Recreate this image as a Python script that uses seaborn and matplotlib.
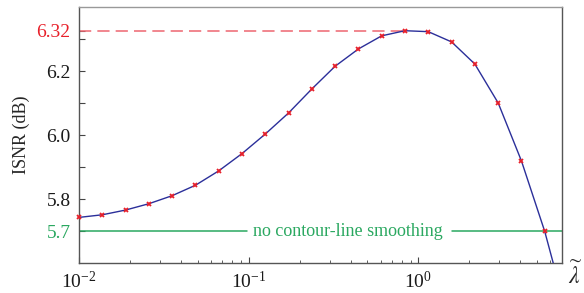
import numpy as np
import pandas as pd
import matplotlib
matplotlib.use("Agg")
import matplotlib.pyplot as plt
import seaborn as sns
from matplotlib.ticker import LogLocator, NullFormatter, FixedLocator

# ==================== Data ==================== #
lam = [0.0100, 0.01372, 0.01882, 0.02582, 0.03540, 0.04858, 0.06663, 0.0914,
       0.1253, 0.1719, 0.2358, 0.3235, 0.4436, 0.6085, 0.8348, 1.145,
       1.571, 2.153, 2.958, 4.055, 5.56, 7.63]
isnr = [5.7425, 5.7507, 5.7655, 5.7853, 5.8104, 5.843, 5.888, 5.942,
        6.003, 6.069, 6.144, 6.215, 6.269, 6.310, 6.326, 6.323,
        6.291, 6.222, 6.100, 5.919, 5.699, 5.428]
best_value = 6.326
best_label = "6.32"
baseline = 5.7
baseline_text = "no contour-line smoothing"

df = pd.DataFrame({"lam": lam, "isnr": isnr})

# ==================== Style ==================== #
sns.set_theme(style="ticks")
plt.rcParams["font.family"] = ["Liberation Serif", "DejaVu Serif"]
plt.rcParams["mathtext.fontset"] = "stix"

fig = plt.figure(figsize=(5.84, 2.93), dpi=100)
ax = fig.add_axes([0.1353, 0.1024, 0.827, 0.8736])

navy = "#2b2f9a"
red = "#e8202a"
dash_red = "#ee6670"
green = "#2aa860"

sns.lineplot(data=df, x="lam", y="isnr", ax=ax, color=navy, linewidth=1.0,
             sort=False, zorder=3)
ax.plot(lam[:-1], isnr[:-1], linestyle="none", marker="x", ms=3.5, mew=1.3,
        color=red, zorder=4, clip_on=False)

ax.set_xscale("log")
ax.set_xlim(0.01, 7.03)
ax.set_ylim(5.6, 6.4)

# peak marker line
ax.plot([0.01, lam[14]], [best_value, best_value], color=dash_red, lw=1.1,
        dashes=(8, 4), zorder=2)

# baseline with text
ax.plot([0.01, 0.0975], [baseline, baseline], color=green, lw=1.1)
ax.plot([1.58, 7.03], [baseline, baseline], color=green, lw=1.1)
ax.text(0.385, baseline, baseline_text, color=green, fontsize=13,
        ha="center", va="center")

# ticks
ax.yaxis.set_major_locator(FixedLocator([5.7, 5.8, 5.9, 6.0, 6.1, 6.2, 6.3, best_value]))
ylabels = ["5.7", "5.8", "", "6.0", "", "6.2", "", best_label]
ax.set_yticklabels(ylabels)
ax.xaxis.set_major_locator(LogLocator(base=10, numticks=10))
ax.xaxis.set_minor_locator(LogLocator(base=10, subs=np.arange(2, 10), numticks=10))
ax.xaxis.set_minor_formatter(NullFormatter())
ax.tick_params(axis="both", which="major", direction="in", length=4, width=0.8,
               labelsize=14, colors="#444444", labelcolor="k", pad=6)
ax.tick_params(axis="x", which="minor", direction="in", length=2.5, width=0.6,
               colors="#444444")
for lbl, c in zip(ax.get_yticklabels(), [green, "k", "k", "k", "k", "k", "k", red]):
    lbl.set_color(c)

for s in ax.spines.values():
    s.set_color("#555555")
    s.set_linewidth(1.0)
ax.spines["top"].set_color("#999999")

ax.set_xlabel("")
ax.set_ylabel("ISNR (dB)", fontsize=13, labelpad=5)
ax.text(1.027, -0.05, r"$\widetilde{\lambda}$", transform=ax.transAxes,
        fontsize=17, ha="center", va="center")

fig.savefig("out.png", dpi=100)
